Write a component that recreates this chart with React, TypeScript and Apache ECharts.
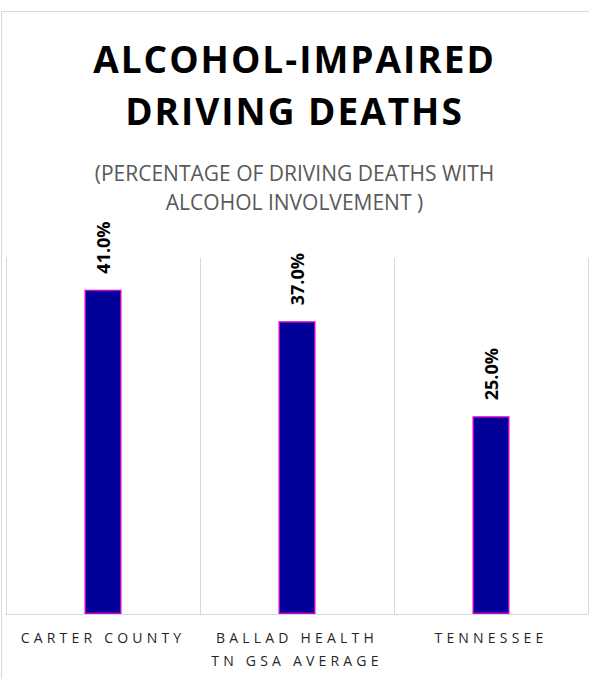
import React, { useEffect, useRef } from 'react';
import * as echarts from 'echarts';

const titleLines = ['ALCOHOL-IMPAIRED', 'DRIVING DEATHS'];
const subtitleLines = ['(PERCENTAGE OF DRIVING DEATHS WITH', 'ALCOHOL INVOLVEMENT )'];
const categories = ['CARTER COUNTY', 'BALLAD HEALTH\nTN GSA AVERAGE', 'TENNESSEE'];
const values = [41.0, 37.0, 25.0];
const yMin = 0;
const yMax = 45;
const yInterval = 5;

export default function App() {
  const ref = useRef<HTMLDivElement>(null);
  useEffect(() => {
    const el = ref.current as HTMLDivElement;
    const chart = echarts.init(el, null, { renderer: 'svg' });
    const catLines: string[] = [];
    categories.forEach((c) => c.split('\n').forEach((l) => catLines.push(l)));
    const applySpacing = () => {
      el.querySelectorAll('text').forEach((t) => {
        const s = (t.textContent || '').trim();
        if (titleLines.includes(s)) t.setAttribute('letter-spacing', '2');
        else if (catLines.includes(s)) t.setAttribute('letter-spacing', '4.2');
      });
    };
    chart.on('finished', applySpacing);
    chart.setOption({
      animation: false,
      backgroundColor: '#ffffff',
      graphic: [
        {
          type: 'rect',
          silent: true,
          z: -10,
          shape: { x: 1.5, y: 11.5, width: 800, height: 800 },
          style: { fill: 'none', stroke: '#d9d9d9', lineWidth: 1 },
        },
      ],
      title: [
        {
          text: titleLines.join('\n'),
          left: 'center',
          top: 32,
          padding: 0,
          textStyle: {
            fontFamily: 'Open Sans',
            fontWeight: 'bold',
            fontSize: 37,
            lineHeight: 52,
            color: '#000000',
          },
        },
        {
          text: subtitleLines.join('\n'),
          left: 'center',
          top: 158,
          padding: 0,
          textStyle: {
            fontFamily: 'Open Sans',
            fontWeight: 'normal',
            fontSize: 21,
            lineHeight: 29,
            color: '#595959',
          },
        },
      ],
      grid: { left: 6, right: 1, top: 258, bottom: 65, containLabel: false },
      xAxis: {
        type: 'category',
        data: categories,
        axisLine: { show: true, lineStyle: { color: '#d9d9d9', width: 1 } },
        axisTick: { show: false },
        splitLine: { show: true, lineStyle: { color: '#d9d9d9', width: 1 } },
        axisLabel: {
          fontFamily: 'Open Sans',
          fontSize: 14,
          lineHeight: 23,
          color: '#262626',
          margin: 12,
          interval: 0,
        },
      },
      yAxis: {
        type: 'value',
        min: yMin,
        max: yMax,
        interval: yInterval,
        axisLine: { show: false },
        axisTick: { show: false },
        axisLabel: { show: false },
        splitLine: { show: false },
      },
      series: [
        {
          type: 'bar',
          data: values,
          barWidth: 37,
          itemStyle: { color: '#000099', borderColor: '#c800c8', borderWidth: 1.5 },
          label: {
            show: true,
            position: 'top',
            rotate: 90,
            align: 'left',
            verticalAlign: 'middle',
            distance: 16,
            formatter: (p: any) => Number(p.value).toFixed(1) + '%',
            fontFamily: 'Open Sans',
            fontWeight: 'bold',
            fontSize: 18,
            color: '#000000',
          },
        },
      ],
    });
    applySpacing();
    const id = window.setTimeout(applySpacing, 30);
    return () => {
      window.clearTimeout(id);
      chart.dispose();
    };
  }, []);
  return (
    <div
      ref={ref}
      style={{ position: 'absolute', left: 0, top: 0, width: 589, height: 679, background: '#ffffff' }}
    />
  );
}
